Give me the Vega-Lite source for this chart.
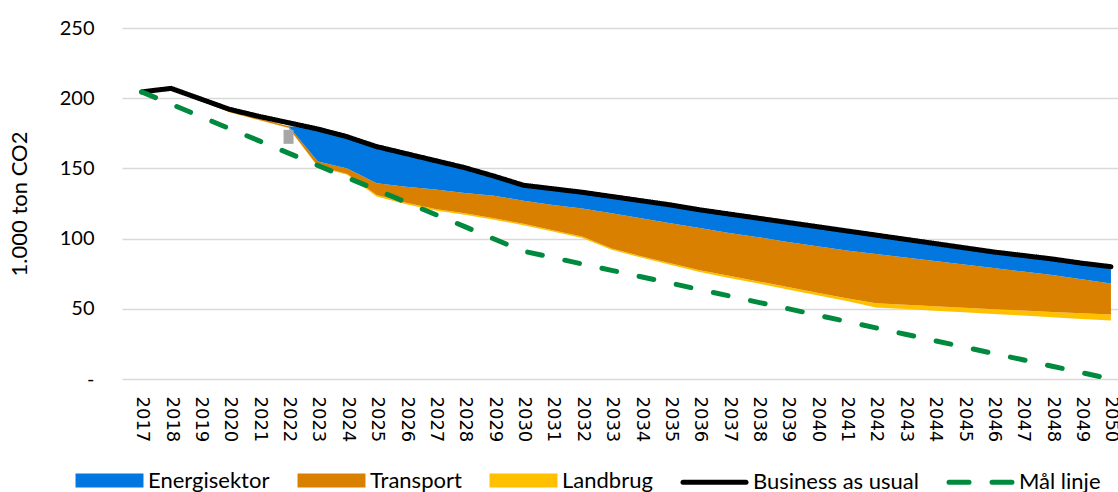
{
  "$schema": "https://vega.github.io/schema/vega-lite/v6.json",
  "autosize": {"type": "none"},
  "padding": {"left": 122, "top": 28, "right": 0, "bottom": 113},
  "width": 996,
  "height": 351,
  "background": "white",
  "config": {
    "view": {"stroke": null},
    "axis": {"labelColor": "black", "titleColor": "black"},
    "axisX": {"labelOverlap": false, "labelFlush": false, "labelBound": false},
    "legend": {"labelLimit": 0}
  },
  "data": {"values": [
    {"year": 2017, "base": 203.8, "Landbrug": 0.2, "Transport": 0.5, "Energisektor": 0, "Business as usual": 204.5, "Mål linje": 204.5},
    {"year": 2018, "base": 205.8, "Landbrug": 0.2, "Transport": 0.5, "Energisektor": 0, "Business as usual": 207, "Mål linje": 195.8},
    {"year": 2019, "base": 198.3, "Landbrug": 0.2, "Transport": 0.5, "Energisektor": 0, "Business as usual": 199.5, "Mål linje": 187.0},
    {"year": 2020, "base": 189.8, "Landbrug": 0.2, "Transport": 1.0, "Energisektor": 0, "Business as usual": 192, "Mål linje": 178.3},
    {"year": 2021, "base": 184.3, "Landbrug": 0.2, "Transport": 1.0, "Energisektor": 0, "Business as usual": 187, "Mål linje": 169.6},
    {"year": 2022, "base": 178.7, "Landbrug": 0.3, "Transport": 1.0, "Energisektor": 0, "Business as usual": 182.5, "Mål linje": 160.9},
    {"year": 2023, "base": 151, "Landbrug": 0.5, "Transport": 3.5, "Energisektor": 23, "Business as usual": 178, "Mål linje": 152.1},
    {"year": 2024, "base": 145.5, "Landbrug": 0.5, "Transport": 4, "Energisektor": 22.5, "Business as usual": 172.5, "Mål linje": 143.4},
    {"year": 2025, "base": 130, "Landbrug": 1, "Transport": 8.5, "Energisektor": 26, "Business as usual": 165.5, "Mål linje": 134.7},
    {"year": 2026, "base": 124.5, "Landbrug": 1, "Transport": 11.5, "Energisektor": 23.5, "Business as usual": 160.5, "Mål linje": 125.9},
    {"year": 2027, "base": 120, "Landbrug": 1, "Transport": 14, "Energisektor": 20.5, "Business as usual": 155.5, "Mål linje": 117.2},
    {"year": 2028, "base": 117, "Landbrug": 1, "Transport": 14.5, "Energisektor": 18, "Business as usual": 150.5, "Mål linje": 108.5},
    {"year": 2029, "base": 113.5, "Landbrug": 1, "Transport": 16, "Energisektor": 14, "Business as usual": 144.5, "Mål linje": 99.7},
    {"year": 2030, "base": 109.5, "Landbrug": 1, "Transport": 16.5, "Energisektor": 11, "Business as usual": 138, "Mål linje": 91},
    {"year": 2031, "base": 105, "Landbrug": 1, "Transport": 18, "Energisektor": 11.5, "Business as usual": 135.5, "Mål linje": 86.5},
    {"year": 2032, "base": 100.5, "Landbrug": 1, "Transport": 20, "Energisektor": 11.5, "Business as usual": 133, "Mål linje": 81.9},
    {"year": 2033, "base": 92, "Landbrug": 1, "Transport": 25, "Energisektor": 12, "Business as usual": 130, "Mål linje": 77.4},
    {"year": 2034, "base": 86.5, "Landbrug": 1, "Transport": 27, "Energisektor": 12.5, "Business as usual": 127, "Mål linje": 72.8},
    {"year": 2035, "base": 81.3, "Landbrug": 1.2, "Transport": 28.5, "Energisektor": 13, "Business as usual": 124, "Mål linje": 68.3},
    {"year": 2036, "base": 76.2, "Landbrug": 1.3, "Transport": 30, "Energisektor": 13, "Business as usual": 120.5, "Mål linje": 63.7},
    {"year": 2037, "base": 72, "Landbrug": 1.5, "Transport": 30.5, "Energisektor": 13.5, "Business as usual": 117.5, "Mål linje": 59.2},
    {"year": 2038, "base": 68, "Landbrug": 1.5, "Transport": 31.5, "Energisektor": 13.5, "Business as usual": 114.5, "Mål linje": 54.6},
    {"year": 2039, "base": 63.8, "Landbrug": 1.7, "Transport": 32, "Energisektor": 14, "Business as usual": 111.5, "Mål linje": 50.1},
    {"year": 2040, "base": 59.7, "Landbrug": 1.8, "Transport": 33, "Energisektor": 14, "Business as usual": 108.5, "Mål linje": 45.5},
    {"year": 2041, "base": 55.5, "Landbrug": 2, "Transport": 34, "Energisektor": 14, "Business as usual": 105.5, "Mål linje": 41},
    {"year": 2042, "base": 51, "Landbrug": 3, "Transport": 35, "Energisektor": 13.5, "Business as usual": 102.5, "Mål linje": 36.4},
    {"year": 2043, "base": 49.8, "Landbrug": 3, "Transport": 33.7, "Energisektor": 13, "Business as usual": 99.5, "Mål linje": 31.9},
    {"year": 2044, "base": 48.7, "Landbrug": 3.1, "Transport": 32.2, "Energisektor": 12.5, "Business as usual": 96.5, "Mål linje": 27.3},
    {"year": 2045, "base": 47.5, "Landbrug": 3.3, "Transport": 30.7, "Energisektor": 12, "Business as usual": 93.5, "Mål linje": 22.8},
    {"year": 2046, "base": 46.3, "Landbrug": 3.4, "Transport": 29.3, "Energisektor": 11.5, "Business as usual": 90.5, "Mål linje": 18.2},
    {"year": 2047, "base": 45.2, "Landbrug": 3.6, "Transport": 27.7, "Energisektor": 11.5, "Business as usual": 88, "Mål linje": 13.7},
    {"year": 2048, "base": 44, "Landbrug": 3.8, "Transport": 26.2, "Energisektor": 11.5, "Business as usual": 85.5, "Mål linje": 9.1},
    {"year": 2049, "base": 42.8, "Landbrug": 4, "Transport": 24.2, "Energisektor": 11.5, "Business as usual": 82.5, "Mål linje": 4.6},
    {"year": 2050, "base": 41.7, "Landbrug": 4.3, "Transport": 22, "Energisektor": 12, "Business as usual": 80, "Mål linje": 0}
  ]},
  "encoding": {
    "x": {"field": "year", "type": "quantitative",
      "scale": {"domain": [2016.5, 2050.07], "nice": false, "zero": false},
      "axis": {"values": [2017,2018,2019,2020,2021,2022,2023,2024,2025,2026,2027,2028,2029,2030,2031,2032,2033,2034,2035,2036,2037,2038,2039,2040,2041,2042,2043,2044,2045,2046,2047,2048,2049,2050],
        "format": "d", "labelAngle": 90, "labelFont": "DejaVu Sans", "labelFontSize": 18,
        "labelPadding": 17, "ticks": false, "tickSize": 0, "domain": false, "grid": false,
        "labelOverlap": false, "labelFlush": false, "labelBound": false, "title": null}}
  },
  "layer": [
    {
      "transform": [
        {"fold": ["base", "Landbrug", "Transport", "Energisektor"], "as": ["serie", "value"]},
        {"lookup": "serie", "from": {"data": {"values": [
          {"serie": "base", "rank": 0}, {"serie": "Landbrug", "rank": 1},
          {"serie": "Transport", "rank": 2}, {"serie": "Energisektor", "rank": 3}]},
          "key": "serie", "fields": ["rank"]}}
      ],
      "mark": {"type": "area", "opacity": 1},
      "encoding": {
        "y": {"field": "value", "type": "quantitative", "stack": "zero", "title": "1.000 ton CO2",
          "scale": {"domain": [0, 250], "nice": false},
          "axis": {"values": [0, 50, 100, 150, 200, 250], "labelExpr": "datum.value == 0 ? '-' : datum.label",
            "labelFont": "Lato", "labelFontSize": 20, "labelPadding": 28, "ticks": false, "tickSize": 0,
            "domain": false, "grid": true, "gridColor": "#d9d9d9", "gridWidth": 1.5,
            "titleFont": "Lato", "titleFontSize": 22, "titleFontWeight": "normal",
            "titlePadding": 28}},
        "color": {"field": "serie", "type": "nominal",
          "scale": {"domain": ["Energisektor", "Transport", "Landbrug", "Business as usual", "Mål linje", "base"],
            "range": ["#0277e0", "#d98000", "#ffc000", "#000000", "#008a3e", "transparent"]},
          "legend": {
            "orient": "none", "legendX": -49, "legendY": 416, "direction": "horizontal", "title": null,
            "values": ["Energisektor", "Transport", "Landbrug", "Business as usual", "Mål linje"],
            "symbolType": "M-0.926,-0.132H0.926V0.132H-0.926Z", "symbolSize": 4624, "symbolStrokeWidth": 5,
            "labelFont": "Lato", "labelFontSize": 22, "labelColor": "black", "labelOffset": 2, "labelLimit": 0,
            "columnPadding": 20,
            "encode": {"symbols": {"update": {
              "shape": {"signal": "(datum.value == 'Business as usual' || datum.value == 'Mål linje') ? 'M-0.926,0H0.926' : 'M-0.926,-0.132H0.926V0.132H-0.926Z'"},
              "fill": {"signal": "datum.value == 'Energisektor' ? '#0277e0' : datum.value == 'Transport' ? '#d98000' : datum.value == 'Landbrug' ? '#ffc000' : 'transparent'"},
              "stroke": {"signal": "datum.value == 'Energisektor' ? '#0277e0' : datum.value == 'Transport' ? '#d98000' : datum.value == 'Landbrug' ? '#ffc000' : datum.value == 'Business as usual' ? '#000000' : '#008a3e'"},
              "strokeWidth": {"value": 5},
              "strokeCap": {"value": "round"},
              "strokeDash": {"signal": "datum.value == 'Mål linje' ? [20, 23] : null"},
              "opacity": {"value": 1}
            }}}
          }},
        "order": {"field": "rank", "type": "quantitative"}
      }
    },
    {
      "data": {"values": [{"year": 2022, "lo": 167.5, "hi": 177.5}]},
      "mark": {"type": "bar", "size": 10, "color": "#a6a6a6"},
      "encoding": {
        "y": {"field": "lo", "type": "quantitative", "title": "1.000 ton CO2"},
        "y2": {"field": "hi"}
      }
    },
    {
      "transform": [{"fold": ["Business as usual", "Mål linje"], "as": ["serie", "value"]}],
      "mark": {"type": "line", "strokeWidth": 5, "strokeCap": "round", "strokeJoin": "round"},
      "encoding": {
        "y": {"field": "value", "type": "quantitative", "title": "1.000 ton CO2"},
        "color": {"field": "serie", "type": "nominal",
          "scale": {"domain": ["Energisektor", "Transport", "Landbrug", "Business as usual", "Mål linje", "base"],
            "range": ["#0277e0", "#d98000", "#ffc000", "#000000", "#008a3e", "transparent"]},
          "legend": {
            "orient": "none", "legendX": -49, "legendY": 416, "direction": "horizontal", "title": null,
            "values": ["Energisektor", "Transport", "Landbrug", "Business as usual", "Mål linje"],
            "symbolType": "M-0.926,-0.132H0.926V0.132H-0.926Z", "symbolSize": 4624, "symbolStrokeWidth": 5,
            "labelFont": "Lato", "labelFontSize": 22, "labelColor": "black", "labelOffset": 2, "labelLimit": 0,
            "columnPadding": 20,
            "encode": {"symbols": {"update": {
              "shape": {"signal": "(datum.value == 'Business as usual' || datum.value == 'Mål linje') ? 'M-0.926,0H0.926' : 'M-0.926,-0.132H0.926V0.132H-0.926Z'"},
              "fill": {"signal": "datum.value == 'Energisektor' ? '#0277e0' : datum.value == 'Transport' ? '#d98000' : datum.value == 'Landbrug' ? '#ffc000' : 'transparent'"},
              "stroke": {"signal": "datum.value == 'Energisektor' ? '#0277e0' : datum.value == 'Transport' ? '#d98000' : datum.value == 'Landbrug' ? '#ffc000' : datum.value == 'Business as usual' ? '#000000' : '#008a3e'"},
              "strokeWidth": {"value": 5},
              "strokeCap": {"value": "round"},
              "strokeDash": {"signal": "datum.value == 'Mål linje' ? [20, 23] : null"},
              "opacity": {"value": 1}
            }}}
          }},
        "strokeDash": {"field": "serie", "type": "nominal",
          "scale": {"domain": ["Business as usual", "Mål linje"], "range": [[1, 0], [15, 23]]},
          "legend": null}
      }
    }
  ]
}
